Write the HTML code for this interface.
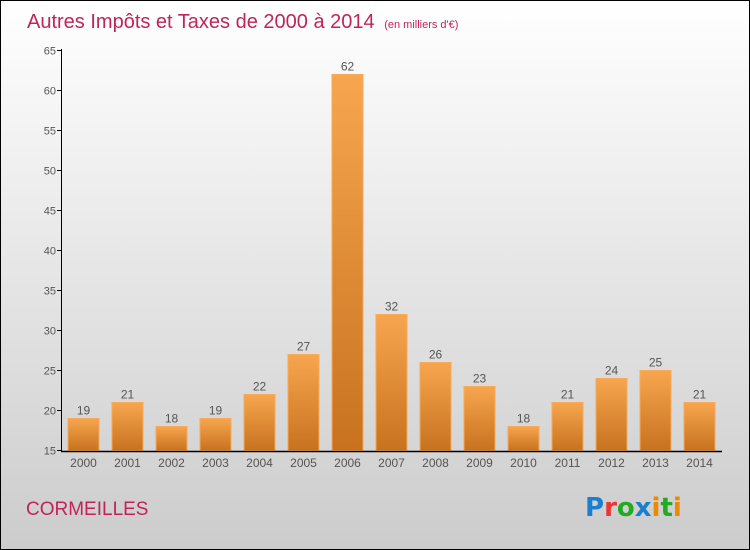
<!DOCTYPE html>
<html><head><meta charset="utf-8"><style>
body{margin:0}
#c{width:748px;height:548px;border:1px solid #000;background:linear-gradient(#fff,#ccc);position:relative;overflow:hidden;font-family:"Liberation Sans",sans-serif}
</style></head><body>
<div id="c">
<svg width="748" height="548" id="svg">
<defs><linearGradient id="g" x1="0" y1="0" x2="0" y2="1"><stop offset="0" stop-color="#f7a64f"/><stop offset="1" stop-color="#c8721f"/></linearGradient></defs>
<text x="26" y="27" font-size="20" fill="#c0245a">Autres Impôts et Taxes de 2000 à 2014 <tspan font-size="11" dx="4">(en milliers d'€)</tspan></text>
<text x="25" y="514" font-size="19" fill="#c0245a">CORMEILLES</text>
<g font-size="26" font-weight="bold" font-family="DejaVu Sans, sans-serif"><text x="584" y="515" fill="#1a7fd0">P<tspan fill="#e33">r</tspan><tspan fill="#2a2">o</tspan><tspan fill="#1a7fd0">x</tspan><tspan fill="#e80">i</tspan><tspan fill="#2a2">t</tspan><tspan fill="#e80">i</tspan></text></g>
<g id="plot"></g>
</svg></div>
<script>
const years=["2000","2001","2002","2003","2004","2005","2006","2007","2008","2009","2010","2011","2012","2013","2014"];
const values=[19,21,18,19,22,27,62,32,26,23,18,21,24,25,21];
const yTicks=[15,20,25,30,35,40,45,50,55,60,65];
const ns="http://www.w3.org/2000/svg";
const g=document.getElementById('plot');
const y=v=>449.5-(v-15)*8.0;
const xc=i=>82.5+i*44;
function el(t,a,txt){const e=document.createElementNS(ns,t);for(const k in a)e.setAttribute(k,a[k]);if(txt!=null)e.textContent=txt;g.appendChild(e);return e;}
yTicks.forEach(v=>{
 const t=el('line',{x1:56,x2:60,y1:y(v),y2:y(v),stroke:'#000'});
 
 
 const l=el('text',{x:55,y:y(v)+4,'font-size':11,fill:'#555','text-anchor':'end'},v);
 
 
});
values.forEach((v,i)=>{
 const r=el('rect',{x:xc(i)-15.5,y:y(v),width:31,height:y(15)-y(v),fill:'url(#g)',stroke:'#f9a957','stroke-width':1});
 
 
 const t=el('text',{x:xc(i),y:y(v)-4,'font-size':12,fill:'#555','text-anchor':'middle'},v);
 
 
 const xl=el('text',{x:xc(i),y:466,'font-size':12,fill:'#555','text-anchor':'middle'},years[i]);
 
 
});
const ya=el('line',{x1:60.5,x2:60.5,y1:48,y2:450,stroke:'#000'});


const xa=el('line',{x1:60,x2:721,y1:450.5,y2:450.5,stroke:'#000','stroke-width':1.5});


</script>
</body></html>
